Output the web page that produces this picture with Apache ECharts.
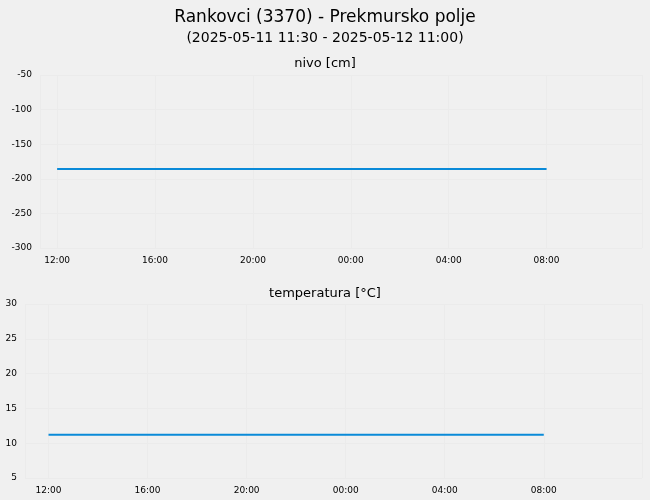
<![CDATA[<!DOCTYPE html><html><head><meta charset="utf-8"><script src="https://cdn.jsdelivr.net/npm/echarts@6/dist/echarts.min.js"></script>
<style>html,body{margin:0;background:#f0f0f0}#c{width:650px;height:500px}</style></head><body><div id="c"></div><script>
const times=[];for(let h=0;h<=20;h++){times.push(Date.UTC(2025,4,11,12+h,0));}
const nivo=[-186,-186,-186,-186,-186,-186,-186,-186,-186,-186,-186,-186,-186,-186,-186,-186,-186,-186,-186,-186,-186];
const temp=[11.2,11.2,11.2,11.2,11.2,11.2,11.2,11.2,11.2,11.2,11.2,11.2,11.2,11.2,11.2,11.2,11.2,11.2,11.2,11.2,11.2];
const c=echarts.init(document.getElementById('c'));
const ax=(min,max,i)=>({type:'time',gridIndex:i,min,max,interval:3*3600e3,
 axisLine:{show:false},axisTick:{show:false},
 axisLabel:{fontSize:9,color:'#000',fontFamily:'DejaVu Sans',formatter:v=>{const d=new Date(v);return String(d.getUTCHours()).padStart(2,'0')+':00';},showMinLabel:false,showMaxLabel:false},
 splitLine:{show:true,lineStyle:{color:'#ebebeb'}}});
const ya=(min,max,iv,i)=>({type:'value',gridIndex:i,min,max,interval:iv,axisLine:{show:false},axisTick:{show:false},
 axisLabel:{fontSize:9,color:'#000',fontFamily:'DejaVu Sans'},splitLine:{lineStyle:{color:'#ebebeb'}}});
const T=(h,m,d)=>Date.UTC(2025,4,d,h,m);
c.setOption({backgroundColor:'#f0f0f0',animation:false,
title:[{text:'Rankovci (3370) - Prekmursko polje',left:'center',top:4,textStyle:{fontSize:17,fontWeight:'normal',fontFamily:'DejaVu Sans',color:'#000'}},
{text:'(2025-05-11 11:30 - 2025-05-12 11:00)',left:'center',top:26,textStyle:{fontSize:14,fontWeight:'normal',fontFamily:'DejaVu Sans',color:'#000'}},
{text:'nivo [cm]',left:'center',top:52,textStyle:{fontSize:13,fontWeight:'normal',fontFamily:'DejaVu Sans',color:'#000'}},
{text:'temperatura [°C]',left:'center',top:282,textStyle:{fontSize:13,fontWeight:'normal',fontFamily:'DejaVu Sans',color:'#000'}}],
grid:[{left:40,right:8,top:75,height:173},{left:25,right:8,top:304,height:174}],
xAxis:[ax(T(11,18,11),T(11,54,12),0),ax(T(11,3,11),T(11,58,12),1)],
yAxis:[ya(-300,-50,50,0),ya(5,30,5,1)],
series:[{type:'line',data:times.map((t,i)=>[t,nivo[i]]),xAxisIndex:0,yAxisIndex:0,showSymbol:false,lineStyle:{color:'#0a8ad8',width:2}},
{type:'line',data:times.map((t,i)=>[t,temp[i]]),xAxisIndex:1,yAxisIndex:1,showSymbol:false,lineStyle:{color:'#0a8ad8',width:2}}]});
</script></body></html>]]>
